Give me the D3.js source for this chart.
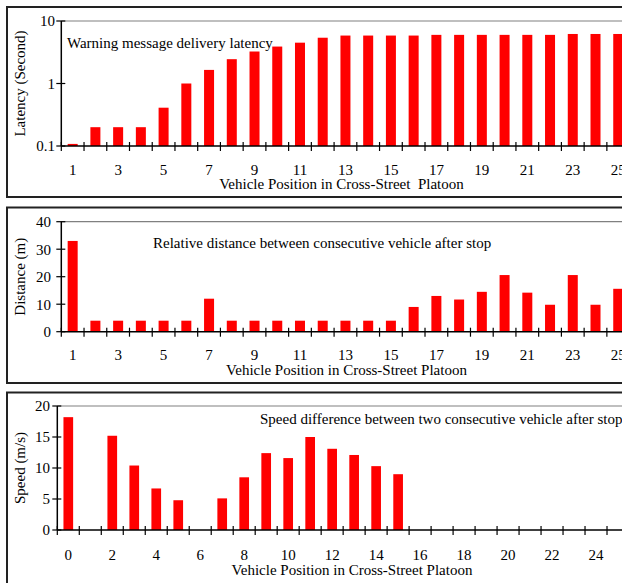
<!DOCTYPE html>
<html><head><meta charset="utf-8">
<script src="https://cdn.jsdelivr.net/npm/d3@7"></script>
<style>
html,body{margin:0;padding:0;background:#fff;overflow:hidden;}
text{font-family:"Liberation Serif","Times New Roman",serif;fill:#000;}
</style></head>
<body>
<svg id="c" width="622" height="583"></svg>
<script>
// ---- data ----
const positions1 = ["1","2","3","4","5","6","7","8","9","10","11","12","13","14","15","16","17","18","19","20","21","22","23","24","25"];
const latency = [0.108,0.2,0.2,0.2,0.41,1.0,1.65,2.45,3.25,3.9,4.5,5.4,5.85,5.85,5.85,5.85,6.0,6.0,6.0,6.0,6.0,6.0,6.2,6.2,6.2];
const distance = [33,4,4,4,4,4,12,4,4,4,4,4,4,4,4,9,13,11.7,14.5,20.6,14.2,9.8,20.6,9.8,15.6];
const positions3 = ["0","1","2","3","4","5","6","7","8","9","10","11","12","13","14","15","16","17","18","19","20","21","22","23","24","25"];
const speed = [18.2,0,15.2,10.4,6.7,4.8,0,5.1,8.5,12.4,11.6,15.0,13.1,12.1,10.3,9.0,0,0,0,0,0,0,0,0,0,0];
const labels1 = ["1","3","5","7","9","11","13","15","17","19","21","23","25"];
const labels3 = ["0","2","4","6","8","10","12","14","16","18","20","22","24"];
const latencyTicks = [0.1,1,10];
const distanceTicks = [0,10,20,30,40];
const speedTicks = [0,5,10,15,20];

const svg = d3.select("#c");
const FS = 15;

function panel(o){
  const g = svg.append("g");
  // box
  g.append("rect").attr("x",7).attr("y",o.boxTop).attr("width",640).attr("height",o.boxH)
    .attr("fill","none").attr("stroke","#222").attr("stroke-width",2);
  const x = d3.scaleBand().domain(o.cats).range([o.left,o.right]).padding(0);
  const y = o.y;
  const bw = x.bandwidth();
  // top grid line
  g.append("line").attr("x1",o.left).attr("x2",640).attr("y1",o.top).attr("y2",o.top)
    .attr("stroke","#808080").attr("stroke-width",1.2);
  // bars
  g.selectAll("rect.bar").data(o.cats.map((c,i)=>({c,v:o.vals[i]})).filter(d=>d.v>0))
    .enter().append("rect").attr("class","bar")
    .attr("x",d=>x(d.c)+bw*0.28).attr("width",bw*0.44)
    .attr("y",d=>y(d.v)).attr("height",d=>o.bottom-y(d.v))
    .attr("fill","#ff0000");
  // x axis line
  g.append("line").attr("x1",o.left).attr("x2",640).attr("y1",o.bottom).attr("y2",o.bottom)
    .attr("stroke","#000").attr("stroke-width",1.5);
  // boundary ticks
  g.selectAll("line.xt").data(o.cats).enter().append("line").attr("class","xt")
    .attr("x1",d=>x(d)).attr("x2",d=>x(d)).attr("y1",o.bottom-4).attr("y2",o.bottom+5)
    .attr("stroke","#000").attr("stroke-width",1.2);
  // x labels
  const xa = d3.axisBottom(x).tickValues(o.xlabels).tickSize(0).tickPadding(0);
  const xg = g.append("g").attr("transform",`translate(0,${o.xlabY})`).call(xa);
  xg.select(".domain").remove();
  xg.selectAll("text").attr("font-size",FS).attr("dy","0.35em")
    .style("font-family",'"Liberation Serif",serif').attr("fill","#000");
  // y axis
  g.append("line").attr("x1",o.left).attr("x2",o.left).attr("y1",o.top).attr("y2",o.bottom)
    .attr("stroke","#000").attr("stroke-width",1.5);
  const ya = d3.axisLeft(y).tickValues(o.yticks).tickSize(0).tickPadding(0).tickFormat(o.yfmt);
  const yg = g.append("g").attr("transform",`translate(${o.ylabX},0)`).call(ya);
  yg.select(".domain").remove();
  yg.selectAll("text").attr("font-size",FS)
    .style("font-family",'"Liberation Serif",serif').attr("fill","#000");
  g.selectAll("line.yt").data(o.yticks).enter().append("line").attr("class","yt")
    .attr("x1",o.left-5).attr("x2",o.left+4).attr("y1",d=>y(d)).attr("y2",d=>y(d))
    .attr("stroke","#000").attr("stroke-width",1.2);
  // axis titles
  g.append("text").attr("x",o.xtitleX).attr("y",o.xtitleY).attr("text-anchor","middle")
    .attr("font-size",FS).style("white-space","pre").text(o.xtitle);
  g.append("text").attr("transform",`translate(25,${(o.top+o.bottom)/2}) rotate(-90)`)
    .attr("text-anchor","middle").attr("font-size",FS).text(o.ytitle);
  // panel title
  g.append("text").attr("x",o.titleX).attr("y",o.titleY).attr("font-size",FS).text(o.title);
}

panel({
  boxTop:7, boxH:190, left:61.3, right:629.6, top:21, bottom:146,
  cats:positions1, vals:latency,
  y:d3.scaleLog().domain([0.1,10]).range([146,21]),
  yticks:latencyTicks, yfmt:d=>String(d), ylabX:55,
  xlabels:labels1, xlabY:170,
  xtitle:"Vehicle Position in Cross-Street  Platoon", xtitleX:341.5, xtitleY:189,
  ytitle:"Latency (Second)",
  title:"Warning message delivery latency", titleX:67, titleY:48
});
panel({
  boxTop:207.5, boxH:175.5, left:61.3, right:629.6, top:221.7, bottom:331.7,
  cats:positions1, vals:distance,
  y:d3.scaleLinear().domain([0,40]).range([331.7,221.7]),
  yticks:distanceTicks, yfmt:d3.format("d"), ylabX:51,
  xlabels:labels1, xlabY:355,
  xtitle:"Vehicle Position in Cross-Street Platoon", xtitleX:346.5, xtitleY:375,
  ytitle:"Distance (m)",
  title:"Relative distance between consecutive vehicle after stop", titleX:153, titleY:248
});
panel({
  boxTop:392.5, boxH:300, left:57.3, right:629, top:406, bottom:530,
  cats:positions3, vals:speed,
  y:d3.scaleLinear().domain([0,20]).range([530,406]),
  yticks:speedTicks, yfmt:d3.format("d"), ylabX:50,
  xlabels:labels3, xlabY:555,
  xtitle:"Vehicle Position in Cross-Street Platoon", xtitleX:352, xtitleY:575,
  ytitle:"Speed (m/s)",
  title:"Speed difference between two consecutive vehicle after stop", titleX:260, titleY:424
});
</script>
</body></html>
